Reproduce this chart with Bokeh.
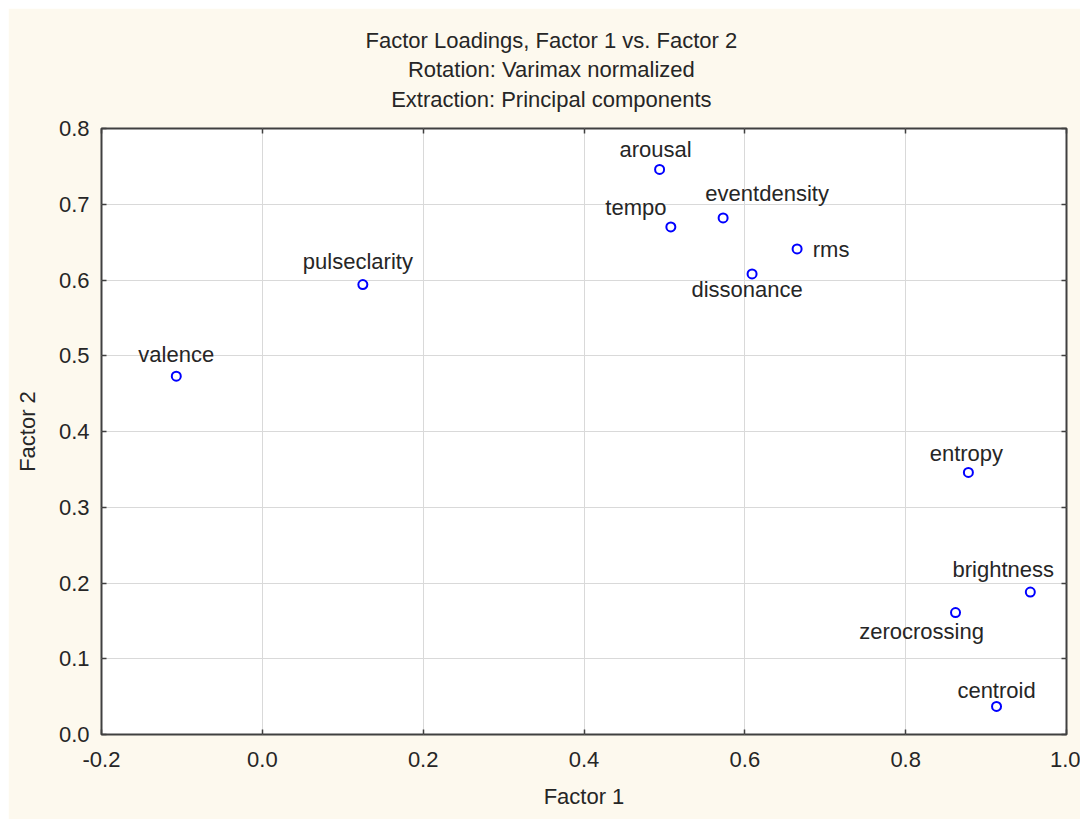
import math
from bokeh.plotting import figure
from bokeh.models import (ColumnDataSource, Title, LinearAxis, FixedTicker,
                          PrintfTickFormatter, CustomJSTickFormatter, Range1d)
from bokeh.core.properties import value
from bokeh.embed import file_html
from bokeh.resources import INLINE

# ---------------- data ----------------
variables = ["valence", "pulseclarity", "arousal", "tempo", "eventdensity", "rms",
             "dissonance", "entropy", "brightness", "zerocrossing", "centroid"]
factor1 = [-0.107, 0.125, 0.494, 0.508, 0.573, 0.665, 0.609, 0.878, 0.955, 0.862, 0.913]
factor2 = [0.473, 0.594, 0.746, 0.670, 0.682, 0.641, 0.608, 0.346, 0.188, 0.161, 0.037]

x_ticks = [-0.2, 0.0, 0.2, 0.4, 0.6, 0.8, 1.0]
y_ticks = [0.0, 0.1, 0.2, 0.3, 0.4, 0.5, 0.6, 0.7, 0.8]

title_lines = ["Factor Loadings, Factor 1 vs. Factor 2",
               "Rotation: Varimax normalized",
               "Extraction: Principal components"]
x_label = "Factor 1"
y_label = "Factor 2"

# ---------------- style: label placement offsets (pixels) ----------------
label_dx = [0, -5, -4, -35, 44, 34, -5, -2, -27, -34, 0]
label_dy = [-22, -23, -20, -19, -24, 1, 16, -19, -23, 19, -16]

FONT = "Liberation Sans"
FS = "22px"
TXT = "#262626"
FRAME = "#404040"
BG = "#fdf9ee"

src = ColumnDataSource(dict(x=factor1, y=factor2, name=variables,
                            dx=label_dx, dy=label_dy))

p = figure(width=1072, height=811, output_backend="svg", toolbar_location=None,
           title=None,
           x_range=Range1d(x_ticks[0], x_ticks[-1]),
           y_range=Range1d(y_ticks[0], y_ticks[-1]),
           min_border_left=93, min_border_right=14,
           min_border_top=120, min_border_bottom=85)
p.margin = (8, 0, 0, 8)
p.background_fill_color = "white"
p.border_fill_color = BG
p.outline_line_color = FRAME
p.outline_line_width = 2

# grid
p.xgrid.ticker = FixedTicker(ticks=x_ticks)
p.ygrid.ticker = FixedTicker(ticks=y_ticks)
for g in (p.xgrid, p.ygrid):
    g.grid_line_color = "#d9d9d9"
    g.grid_line_width = 1

# axes
def style_axis(ax, ticks, labels=True, standoff=12):
    ax.ticker = FixedTicker(ticks=ticks)
    ax.axis_line_color = None
    ax.major_tick_in = 5
    ax.major_tick_out = 0
    ax.major_tick_line_color = FRAME
    ax.major_tick_line_width = 1.5
    ax.minor_tick_line_color = None
    ax.major_label_standoff = standoff
    if labels:
        ax.formatter = PrintfTickFormatter(format="%.1f")
        ax.major_label_text_font = FONT
        ax.major_label_text_font_size = FS
        ax.major_label_text_color = TXT
        ax.axis_label_text_font = FONT
        ax.axis_label_text_font_size = FS
        ax.axis_label_text_font_style = "normal"
        ax.axis_label_text_color = TXT
    else:
        ax.formatter = CustomJSTickFormatter(code="return ''")

style_axis(p.xaxis[0], x_ticks, True, 17)
style_axis(p.yaxis[0], y_ticks, True, 12)
p.xaxis[0].axis_label = x_label
p.xaxis[0].axis_label_standoff = 14
p.yaxis[0].axis_label = y_label
p.yaxis[0].axis_label_standoff = 16

top_ax = LinearAxis()
right_ax = LinearAxis()
style_axis(top_ax, x_ticks, False, 0)
style_axis(right_ax, y_ticks, False, 0)
p.add_layout(top_ax, "above")
p.add_layout(right_ax, "right")

# three-line title block
title = Title(text="\n".join(title_lines), align="left", offset=264,
              standoff=33, text_line_height=1.185,
              text_font=FONT, text_font_size=FS, text_font_style="normal",
              text_color=TXT)
if "text_align" in title.properties():
    title.text_align = "center"
p.add_layout(title, "above")

# points
p.scatter("x", "y", source=src, marker="circle", size=9,
          line_color="#0000ff", line_width=2, fill_color="white")

# point labels
p.text("x", "y", text="name", source=src, x_offset="dx", y_offset="dy",
       text_align="center", text_baseline="alphabetic",
       text_font=value(FONT), text_font_size=FS, text_color=TXT)

open("out.html", "w").write(file_html(p, INLINE))
